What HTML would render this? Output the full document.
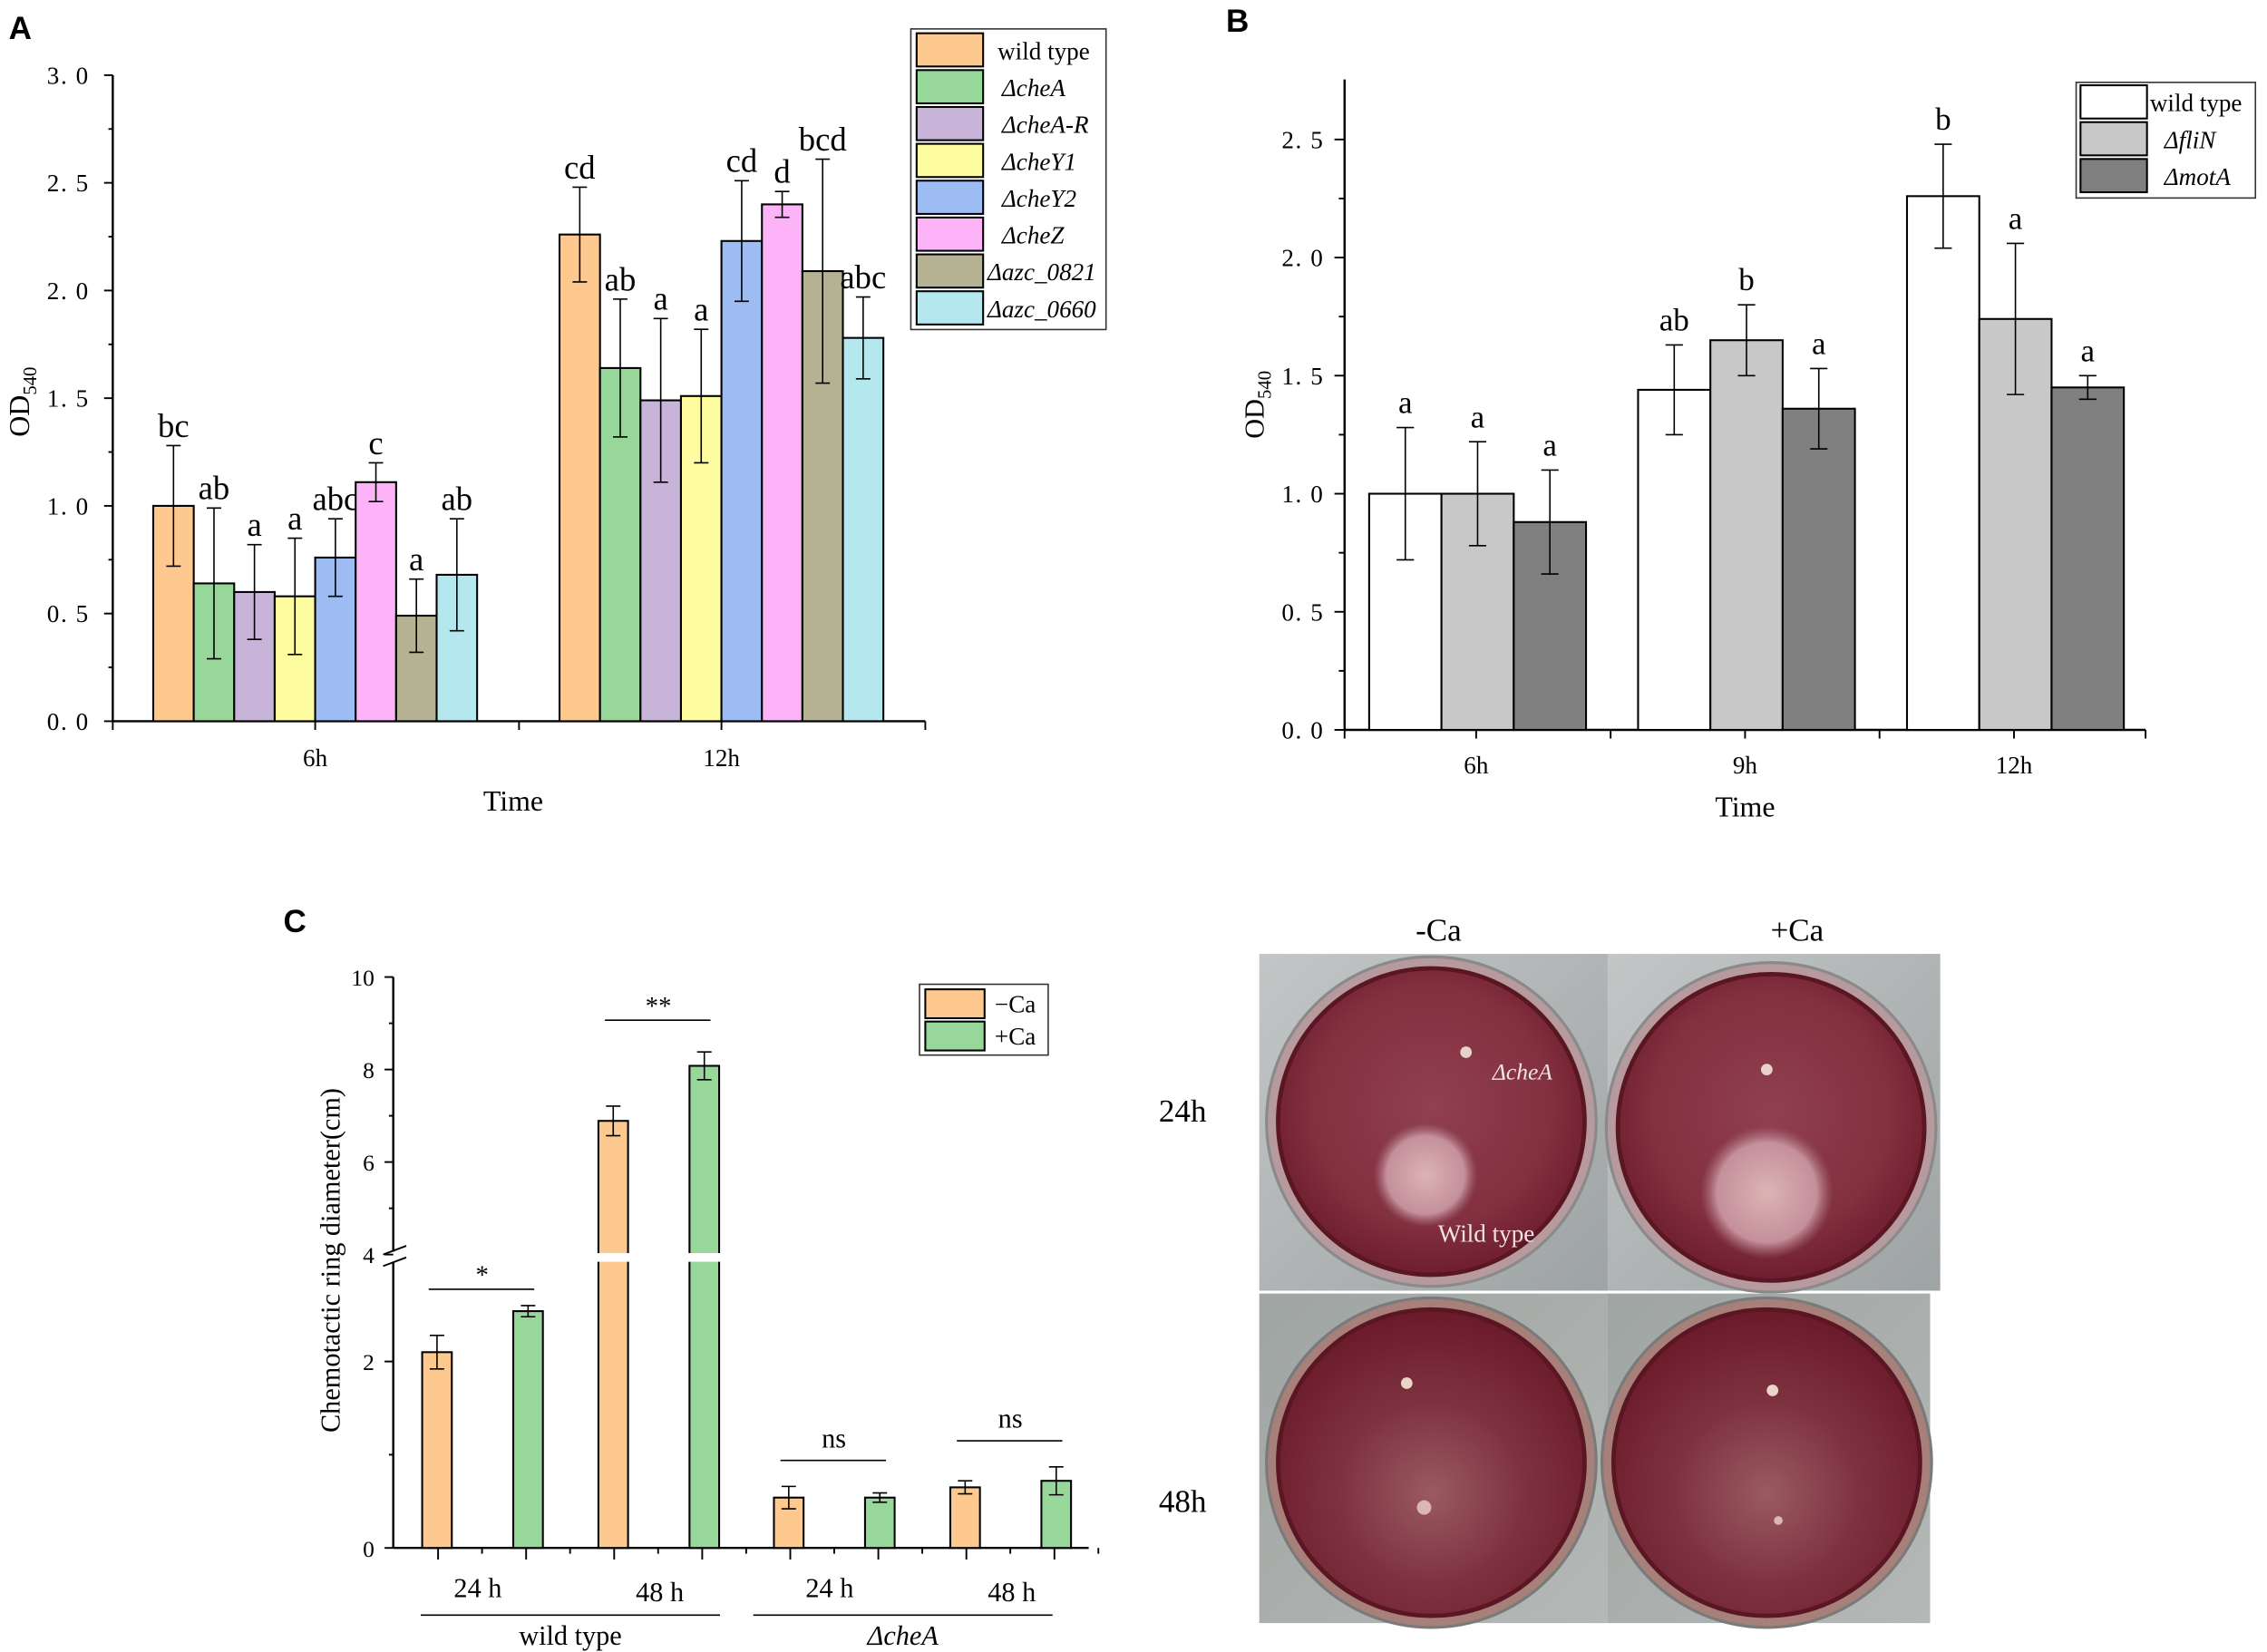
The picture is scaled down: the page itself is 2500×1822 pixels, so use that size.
<!DOCTYPE html>
<html><head><meta charset="utf-8"><style>
html,body{margin:0;padding:0;background:#fff;}
svg{display:block;font-family:"Liberation Serif",serif;}
.sans{font-family:"Liberation Sans",sans-serif;font-weight:bold;}
</style></head><body>
<svg id="fig" width="2500" height="1822" viewBox="0 0 1568 1143" preserveAspectRatio="none" xmlns="http://www.w3.org/2000/svg">
<defs>
<radialGradient id="agar1" cx="0.5" cy="0.45" r="0.55"><stop offset="0" stop-color="#904050"/><stop offset="0.7" stop-color="#83303f"/><stop offset="1" stop-color="#6e1e2e"/></radialGradient>
<radialGradient id="agar2" cx="0.5" cy="0.6" r="0.6"><stop offset="0" stop-color="#9a5a62"/><stop offset="0.5" stop-color="#7e3240"/><stop offset="1" stop-color="#6a1a28"/></radialGradient>
<radialGradient id="halo" cx="0.5" cy="0.5" r="0.5"><stop offset="0" stop-color="#dcb4b4"/><stop offset="0.75" stop-color="#c4909a"/><stop offset="1" stop-color="#a8707c" stop-opacity="0"/></radialGradient>
<linearGradient id="bg1" x1="0" y1="0" x2="1" y2="1"><stop offset="0" stop-color="#c3c6c6"/><stop offset="1" stop-color="#9ea3a4"/></linearGradient>
<linearGradient id="bg2" x1="0" y1="0" x2="1" y2="1"><stop offset="0" stop-color="#9fa5a2"/><stop offset="1" stop-color="#b4b8b6"/></linearGradient>
</defs>
<text class="sans" x="6" y="27" font-size="22">A</text>
<text class="sans" x="848" y="22" font-size="22">B</text>
<text class="sans" x="196" y="645" font-size="22">C</text>
<g id="pa"></g>
<g id="pb"></g>
<g id="pc"></g>
<g id="photos">
<text x="995" y="651" font-size="22" text-anchor="middle">-Ca</text>
<text x="1243" y="651" font-size="22" text-anchor="middle">+Ca</text>
<text x="818" y="776" font-size="22" text-anchor="middle">24h</text>
<text x="818" y="1046" font-size="22" text-anchor="middle">48h</text>
<g>
<rect x="871" y="660" width="241" height="233" fill="url(#bg1)"/>
<circle cx="990" cy="776" r="114" fill="#b79a9e" stroke="#8a8a8a" stroke-width="2"/>
<circle cx="990" cy="776" r="106" fill="url(#agar1)" stroke="#5a1622" stroke-width="3"/>
<circle cx="986" cy="813" r="36" fill="url(#halo)"/>
<circle cx="1014" cy="728" r="4" fill="#e6d2c8"/>
<text x="1053" y="747" font-size="16" font-style="italic" fill="#f1e4e4" text-anchor="middle">ΔcheA</text>
<text x="1028" y="859" font-size="17" fill="#f1e4e4" text-anchor="middle">Wild type</text>
</g>
<g>
<rect x="1112" y="660" width="230" height="233" fill="url(#bg1)"/>
<circle cx="1225" cy="780" r="114" fill="#b79a9e" stroke="#8a8a8a" stroke-width="2"/>
<circle cx="1225" cy="780" r="106" fill="url(#agar1)" stroke="#5a1622" stroke-width="3"/>
<circle cx="1222" cy="825" r="46" fill="url(#halo)"/>
<circle cx="1222" cy="740" r="4" fill="#e6d2c8"/>
</g>
<g>
<rect x="871" y="895" width="241" height="228" fill="url(#bg2)"/>
<circle cx="990" cy="1012" r="114" fill="#a8807a" stroke="#7a7a7a" stroke-width="2"/>
<circle cx="990" cy="1012" r="106" fill="url(#agar2)" stroke="#5a1622" stroke-width="3"/>
<circle cx="973" cy="957" r="4" fill="#ead6c8"/>
<circle cx="985" cy="1043" r="5" fill="#d8b8b0"/>
</g>
<g>
<rect x="1112" y="895" width="223" height="228" fill="url(#bg2)"/>
<circle cx="1222" cy="1012" r="114" fill="#a8807a" stroke="#7a7a7a" stroke-width="2"/>
<circle cx="1222" cy="1012" r="106" fill="url(#agar2)" stroke="#5a1622" stroke-width="3"/>
<circle cx="1226" cy="962" r="4" fill="#ead6c8"/>
<circle cx="1230" cy="1052" r="3" fill="#d8b8b0"/>
</g>
</g>
</svg>
<script>
// ---------- Panel A data ----------
var aCategories = ["6h", "12h"];
var aSeries = ["wild type", "ΔcheA", "ΔcheA-R", "ΔcheY1", "ΔcheY2", "ΔcheZ", "Δazc_0821", "Δazc_0660"];
var aValues6 = [1.00, 0.64, 0.60, 0.58, 0.76, 1.11, 0.49, 0.68];
var aErr6 = [0.28, 0.35, 0.22, 0.27, 0.18, 0.09, 0.17, 0.26];
var aLetters6 = ["bc", "ab", "a", "a", "abc", "c", "a", "ab"];
var aValues12 = [2.26, 1.64, 1.49, 1.51, 2.23, 2.40, 2.09, 1.78];
var aErr12 = [0.22, 0.32, 0.38, 0.31, 0.28, 0.06, 0.52, 0.19];
var aLetters12 = ["cd", "ab", "a", "a", "cd", "d", "bcd", "abc"];
var aTicks = ["0. 0", "0. 5", "1. 0", "1. 5", "2. 0", "2. 5", "3. 0"];
var aColors = ["#fdc98f", "#98d79a", "#c7b4d8", "#fdfc9e", "#9cbcf3", "#fcb3f7", "#b4b292", "#b4e7ee"];
// ---------- Panel B data ----------
var bCategories = ["6h", "9h", "12h"];
var bSeries = ["wild type", "ΔfliN", "ΔmotA"];
var bWild = [1.00, 1.44, 2.26];
var bWildErr = [0.28, 0.19, 0.22];
var bFliN = [1.00, 1.65, 1.74];
var bFliNErr = [0.22, 0.15, 0.32];
var bMotA = [0.88, 1.36, 1.45];
var bMotAErr = [0.22, 0.17, 0.05];
var bLetters = [["a","ab","b"],["a","b","a"],["a","a","a"]];
var bTicks = ["0. 0", "0. 5", "1. 0", "1. 5", "2. 0", "2. 5"];
var bColors = ["#ffffff", "#c8c8c8", "#808080"];
// ---------- Panel C data ----------
var cTimes = ["24 h", "48 h", "24 h", "48 h"];
var cGroups = ["wild type", "ΔcheA"];
var cMinusCa = [2.10, 6.89, 0.54, 0.65];
var cMinusCaErr = [0.18, 0.32, 0.12, 0.07];
var cPlusCa = [2.54, 8.08, 0.54, 0.72];
var cPlusCaErr = [0.06, 0.30, 0.05, 0.15];
var cSig = ["*", "**", "ns", "ns"];
var cTicks = [0, 2, 4, 6, 8, 10];

var NS = "http://www.w3.org/2000/svg";
function mk(parent, tag, attrs, text) {
  var e = document.createElementNS(NS, tag);
  for (var k in attrs) e.setAttribute(k, attrs[k]);
  if (text !== undefined) e.textContent = text;
  parent.appendChild(e);
  return e;
}
function line(p, x1, y1, x2, y2, w) { return mk(p, "line", {x1:x1, y1:y1, x2:x2, y2:y2, stroke:"#000", "stroke-width":w||1}); }
function errbar(p, x, y1, y2, hw) {
  line(p, x, y1, x, y2, 1); line(p, x-hw, y1, x+hw, y1, 1); line(p, x-hw, y2, x+hw, y2, 1);
}

// ===== Panel A =====
(function(){
  var g = document.getElementById("pa");
  function yA(v){ return 499 - 149 * v; }
  var centers = [218, 499], bw = 28;
  var ax = line(g, 78, 499, 78, 52, 1.5);
  
  
  for (var i = 0; i <= 12; i++) {
    var v = i * 0.25, major = i % 2 === 0;
    line(g, major ? 72 : 75, yA(v), 78, yA(v), 1.2);
    if (major) {
      var t = mk(g, "text", {x:62, y:yA(v)+6, "font-size":17, "letter-spacing":1, "text-anchor":"end"}, aTicks[i/2]);
      
      
    }
  }
  var xa = line(g, 78, 499, 640, 499, 1.5);
  
  
  [78, 218, 359, 499, 640].forEach(function(x){ line(g, x, 499, x, 505, 1.2); });
  aCategories.forEach(function(c, ci){
    var t = mk(g, "text", {x:centers[ci], y:530, "font-size":17, "text-anchor":"middle"}, c);
    
    
    var vals = ci === 0 ? aValues6 : aValues12, errs = ci === 0 ? aErr6 : aErr12, lets = ci === 0 ? aLetters6 : aLetters12;
    vals.forEach(function(v, si){
      var x = centers[ci] - 112 + si * bw;
      var r = mk(g, "rect", {x:x, y:yA(v), width:bw, height:yA(0)-yA(v), fill:aColors[si], stroke:"#000", "stroke-width":1.3});
      
      
      errbar(g, x + bw/2, yA(v + errs[si]), yA(v - errs[si]), 5);
      var lt = mk(g, "text", {x:x + bw/2, y:yA(v + errs[si]) - 6, "font-size":23, "text-anchor":"middle"}, lets[si]);
      
      
    });
  });
  var xt = mk(g, "text", {x:355, y:561, "font-size":20, "text-anchor":"middle"}, "Time");
  
  
  var yt = mk(g, "text", {transform:"translate(20,278) rotate(-90)", "font-size":20, "text-anchor":"middle"});
  
  
  mk(yt, "tspan", {}, "OD");
  mk(yt, "tspan", {"font-size":13, dy:5}, "540");
  var lg = mk(g, "g", {});
  
  
  mk(lg, "rect", {x:630, y:20, width:135, height:208, fill:"#fff", stroke:"#333", "stroke-width":1});
  aSeries.forEach(function(s, i){
    var y = 23 + i * 25.5;
    mk(lg, "rect", {x:634, y:y, width:46, height:23, fill:aColors[i], stroke:"#000", "stroke-width":1.3});
    var t = mk(lg, "text", {x:i===0?690:(i>=6?683:693), y:y+18, "font-size":17, "font-style":i===0?"normal":"italic"}, s);
    
    
  });
})();

// ===== Panel B =====
(function(){
  var g = document.getElementById("pb");
  function yB(v){ return 505 - 163.4 * v; }
  var centers = [1021, 1207, 1393], bw = 50;
  var ax = line(g, 930, 505, 930, 55, 1.5);
  
  
  for (var i = 0; i <= 10; i++) {
    var v = i * 0.25, major = i % 2 === 0;
    line(g, major ? 923 : 926, yB(v), 930, yB(v), 1.2);
    if (major) {
      var t = mk(g, "text", {x:916, y:yB(v)+6, "font-size":17, "letter-spacing":1, "text-anchor":"end"}, bTicks[i/2]);
      
      
    }
  }
  var xa = line(g, 930, 505, 1484, 505, 1.5);
  
  
  [930, 1021, 1114, 1207, 1300, 1393, 1484].forEach(function(x){ line(g, x, 505, x, 511, 1.2); });
  var vals = [bWild, bFliN, bMotA], errs = [bWildErr, bFliNErr, bMotAErr];
  bCategories.forEach(function(c, ci){
    var t = mk(g, "text", {x:centers[ci], y:535, "font-size":17, "text-anchor":"middle"}, c);
    
    
    for (var si = 0; si < 3; si++) {
      var v = vals[si][ci], e = errs[si][ci], x = centers[ci] - 74 + si * bw;
      var r = mk(g, "rect", {x:x, y:yB(v), width:bw, height:yB(0)-yB(v), fill:bColors[si], stroke:"#000", "stroke-width":1.3});
      
      
      errbar(g, x + bw/2, yB(v + e), yB(v - e), 6);
      var lt = mk(g, "text", {x:x + bw/2, y:yB(v + e) - 10, "font-size":22, "text-anchor":"middle"}, bLetters[si][ci]);
      
      
    }
  });
  var xt = mk(g, "text", {x:1207, y:565, "font-size":20, "text-anchor":"middle"}, "Time");
  
  
  var yt = mk(g, "text", {transform:"translate(874,280) rotate(-90)", "font-size":19, "text-anchor":"middle"});
  
  
  mk(yt, "tspan", {}, "OD");
  mk(yt, "tspan", {"font-size":13, dy:5}, "540");
  var lg = mk(g, "g", {});
  
  
  mk(lg, "rect", {x:1436, y:57, width:124, height:80, fill:"#fff", stroke:"#333", "stroke-width":1});
  bSeries.forEach(function(s, i){
    var y = 59 + i * 25.5;
    mk(lg, "rect", {x:1439, y:y, width:46, height:23, fill:bColors[i], stroke:"#000", "stroke-width":1.3});
    var t = mk(lg, "text", {x:i===0?1487:1497, y:y+18, "font-size":17, "font-style":i===0?"normal":"italic"}, s);
    
    
  });
})();

// ===== Panel C =====
(function(){
  var g = document.getElementById("pc");
  function yC(v){ return v <= 3.1 ? 1071 - 64.5 * v : 868 - 32 * (v - 4); }
  var centers = [333.5, 455.4, 576.8, 698.8], bw = 20.5;
  var ax1 = line(g, 272, 1071, 272, 873, 1.5);
  
  
  var ax2 = line(g, 272, 866, 272, 676, 1.5);
  
  
  line(g, 265, 868, 281, 862, 1.2); line(g, 265, 876, 281, 870, 1.2);
  cTicks.forEach(function(v){
    line(g, 266, yC(v), 272, yC(v), 1.2);
    var t = mk(g, "text", {x:259, y:yC(v)+6, "font-size":16, "text-anchor":"end"}, String(v));
    
    
  });
  [1, 5, 7, 9].forEach(function(v){ line(g, 269, yC(v), 272, yC(v), 1.2); });
  var xa = line(g, 272, 1071, 753, 1071, 1.5);
  
  
  for (var k = 0; k < 8; k++) {
    var xm = 303 + k * 60.9;
    line(g, xm, 1071, xm, 1079, 1.2);
    line(g, xm + 30.4, 1071, xm + 30.4, 1075, 1.2);
  }
  centers.forEach(function(c, i){
    var pairs = [[cMinusCa[i], cMinusCaErr[i], "#fdc98f", c - 41.5], [cPlusCa[i], cPlusCaErr[i], "#98d79a", c + 21.5]];
    var tops = [];
    pairs.forEach(function(p){
      var r = mk(g, "rect", {x:p[3], y:yC(p[0]), width:bw, height:1071 - yC(p[0]), fill:p[2], stroke:"#000", "stroke-width":1.3});
      
      
      if (p[0] > 3.1) mk(g, "rect", {x:p[3]-2, y:867, width:bw+4, height:6, fill:"#fff"});
      errbar(g, p[3] + bw/2, yC(p[0] + p[1]), yC(p[0] - p[1]), 5);
      tops.push(yC(p[0] + p[1]));
    });
    var top = Math.min(tops[0], tops[1]);
    var ly = i < 2 ? Math.min(top, 900) - 22 : top - 18;
    if (i === 0) ly = 892;
    line(g, c - 37, ly, c + 36, ly, 1);
    var st = mk(g, "text", {x:c, y:ly - (cSig[i] === "ns" ? 9 : 4), "font-size":cSig[i]==="ns"?19:18, "text-anchor":"middle"}, cSig[i]);
    
    
    var tt = mk(g, "text", {x:c + (i % 2 ? 1 : -3), y:i % 2 ? 1108 : 1105, "font-size":19, "text-anchor":"middle"}, cTimes[i]);
    
    
  });
  cGroups.forEach(function(s, i){
    var x1 = i === 0 ? 291 : 521, x2 = i === 0 ? 498 : 728;
    line(g, x1, 1117.5, x2, 1117.5, 1);
    var t = mk(g, "text", {x:(x1 + x2)/2, y:1138, "font-size":19, "text-anchor":"middle", "font-style":i===1?"italic":"normal"}, s);
    
    
  });
  var yt = mk(g, "text", {transform:"translate(235,872) rotate(-90)", "font-size":19, "text-anchor":"middle"}, "Chemotactic ring diameter(cm)");
  
  
  var lg = mk(g, "g", {});
  
  
  mk(lg, "rect", {x:636, y:681, width:89, height:49, fill:"#fff", stroke:"#333", "stroke-width":1});
  [["−Ca", "#fdc98f"], ["+Ca", "#98d79a"]].forEach(function(e, i){
    var y = 684.5 + i * 22.3;
    mk(lg, "rect", {x:640, y:y, width:41, height:20, fill:e[1], stroke:"#000", "stroke-width":1.3});
    var t = mk(lg, "text", {x:688, y:y+16, "font-size":17}, e[0]);
    
    
  });
})();
</script>
</body></html>
